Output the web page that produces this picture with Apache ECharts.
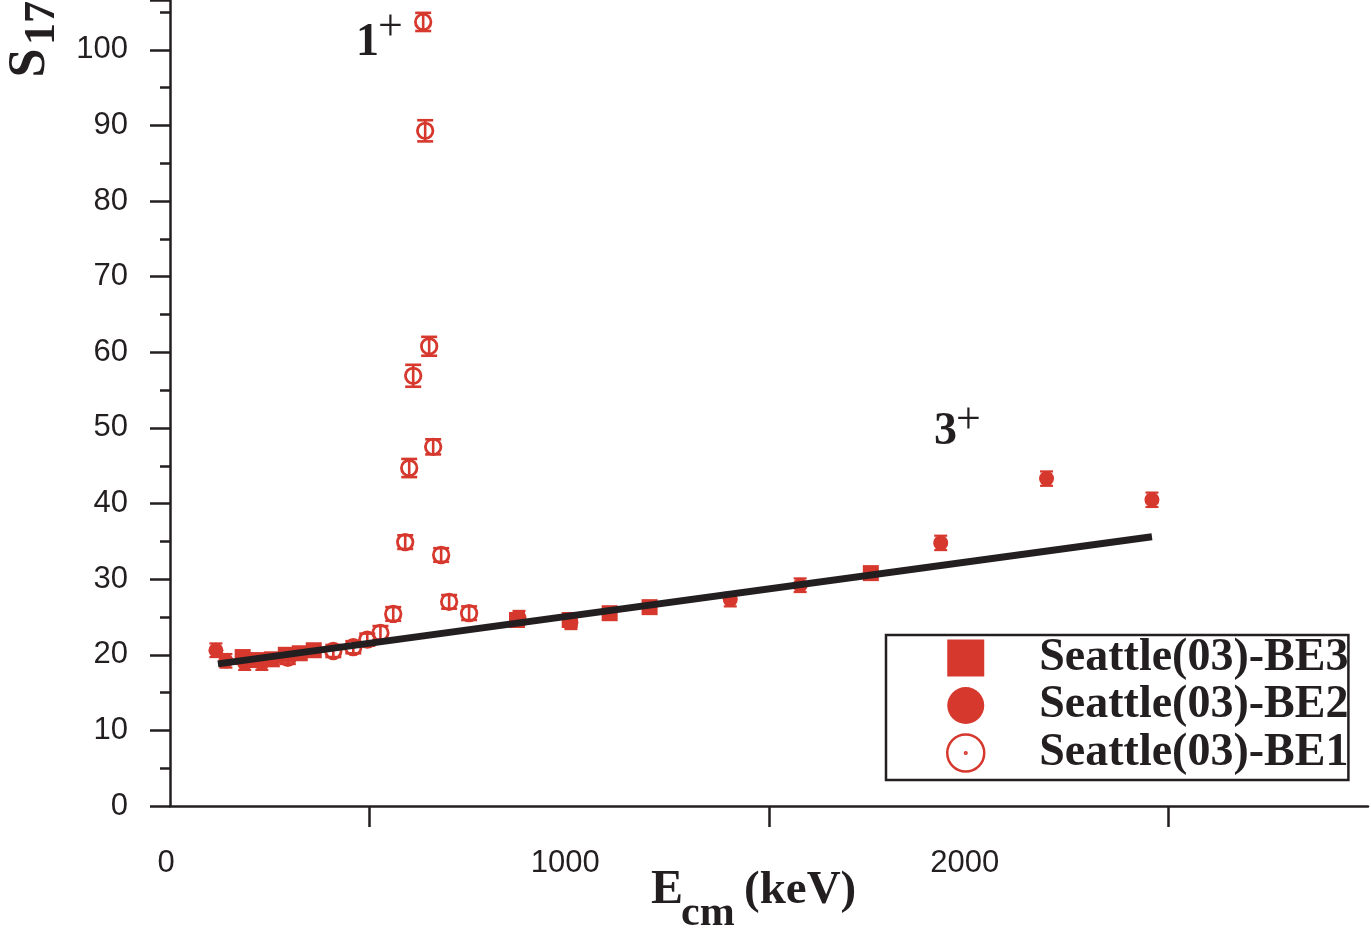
<!DOCTYPE html>
<html>
<head>
<meta charset="utf-8">
<script src="https://cdn.jsdelivr.net/npm/echarts@6/dist/echarts.min.js"></script>
<style>
html,body{margin:0;padding:0;background:#fff;}
#chart{width:1371px;height:931px;}
</style>
</head>
<body>
<div id="chart"></div>
<script>
// ---- data ----
const seriesNames = ['Seattle(03)-BE3', 'Seattle(03)-BE2', 'Seattle(03)-BE1'];

const be3X = [182, 220, 255, 290, 325, 360, 869, 1001, 1101, 1201, 1755];
const be3Y = [19.7, 19.3, 19.4, 20.0, 20.2, 20.6, 24.6, 24.6, 25.5, 26.3, 30.8];

const be2X = [115, 140, 187, 230, 874, 1004, 1403, 1578, 1930, 2195, 2459];
const be2Y = [20.6, 19.2, 18.9, 18.9, 24.9, 24.3, 27.3, 29.2, 34.8, 43.3, 40.5];
const be2Err = [0.9, 0.9, 0.9, 0.9, 0.9, 0.9, 0.9, 0.9, 0.95, 0.95, 0.95];

const be1X = [295, 409, 459, 494, 527, 559, 589, 599, 609, 634, 639, 649, 659, 679, 699, 749];
const be1Y = [19.6, 20.5, 21.0, 22.0, 22.9, 25.4, 34.9, 44.7, 56.9, 103.7, 89.3, 60.8, 47.5, 33.2, 27.0, 25.5];
const be1Err = [0.8, 0.8, 0.8, 0.8, 0.9, 0.9, 0.9, 1.2, 1.45, 1.2, 1.4, 1.25, 1.0, 0.9, 0.9, 0.9];

const fitX = [120, 2459];
const fitY = [18.8, 35.6];

const xTickLabels = ['0', '1000', '2000'];
const yTickLabels = ['0', '10', '20', '30', '40', '50', '60', '70', '80', '90', '100'];

// ---- styling ----
const RED = '#d6382d';
const INK = '#231f20';
const SERIF = '"Liberation Serif", "Times New Roman", serif';
const SANS = '"Liberation Sans", Arial, sans-serif';

const zip = (xs, ys) => xs.map((x, i) => [x, ys[i]]);
const zip3 = (xs, ys, es) => xs.map((x, i) => [x, ys[i], es[i]]);

function errRender(capHalf, lw) {
  return function (params, api) {
    const x = api.value(0), y = api.value(1), e = api.value(2);
    const top = api.coord([x, y + e]);
    const bot = api.coord([x, y - e]);
    const st = { stroke: RED, lineWidth: lw, fill: null };
    return {
      type: 'group',
      children: [
        { type: 'line', shape: { x1: top[0], y1: top[1], x2: bot[0], y2: bot[1] }, style: st },
        { type: 'line', shape: { x1: top[0] - capHalf, y1: top[1], x2: top[0] + capHalf, y2: top[1] }, style: st },
        { type: 'line', shape: { x1: bot[0] - capHalf, y1: bot[1], x2: bot[0] + capHalf, y2: bot[1] }, style: st }
      ]
    };
  };
}

const chart = echarts.init(document.getElementById('chart'), null, { renderer: 'canvas' });

const axisLine = { show: true, lineStyle: { color: INK, width: 2.5 } };

const option = {
  animation: false,
  backgroundColor: '#fff',
  grid: { left: 170, right: 0, top: 0, bottom: 125, containLabel: false },
  xAxis: {
    type: 'value', min: 0, max: 3000, interval: 1000,
    axisLine: axisLine,
    axisTick: { show: false },
    minorTick: { show: true, splitNumber: 2, length: 21, lineStyle: { color: INK, width: 2.5 } },
    axisLabel: {
      margin: 42, color: INK, fontFamily: SANS, fontSize: 31, padding: [0, 8, 0, 0],
      formatter: v => xTickLabels.includes(String(v)) ? String(v) : ''
    },
    splitLine: { show: false },
    minorSplitLine: { show: false }
  },
  yAxis: [{
    type: 'value', min: 0, max: 106.6, interval: 10,
    axisLine: axisLine,
    axisTick: { show: true, inside: false, length: 20, lineStyle: { color: INK, width: 2.5 } },
    axisLabel: {
      margin: 42, color: INK, fontFamily: SANS, fontSize: 31,
      formatter: v => yTickLabels.includes(String(v)) ? String(v) : ''
    },
    splitLine: { show: false }
  }, {
    type: 'value', min: 0, max: 106.6, interval: 5, position: 'left',
    axisLine: { show: false },
    axisTick: { show: true, inside: false, length: 10, lineStyle: { color: INK, width: 2.5 } },
    axisLabel: { show: false },
    splitLine: { show: false }
  }],
  legend: {
    orient: 'vertical', left: 886, top: 635,
    itemWidth: 37, itemHeight: 37, itemGap: 1.5,
    padding: [0, 0, 4, 60],
    borderColor: INK, borderWidth: 2.5, borderRadius: 0,
    selectedMode: false,
    textStyle: { fontFamily: SERIF, fontWeight: 'bold', fontSize: 46, color: INK, padding: [0, 0, 0, 50] },
    data: [
      { name: seriesNames[0], icon: 'rect', itemStyle: { color: RED, borderWidth: 0 } },
      { name: seriesNames[1], icon: 'circle', itemStyle: { color: RED, borderWidth: 0 } },
      { name: seriesNames[2],
        icon: 'path://M18,0 A18,18 0 1,1 17.99,0 Z M18,17.2 A0.8,0.8 0 1,1 17.99,17.2 Z',
        itemStyle: { color: 'rgba(0,0,0,0)', borderColor: RED, borderWidth: 2.5 } }
    ]
  },
  series: [
    {
      name: seriesNames[0], type: 'scatter', symbol: 'rect', symbolSize: 16,
      itemStyle: { color: RED, opacity: 1 }, z: 3,
      data: zip(be3X, be3Y)
    },
    {
      name: seriesNames[1], type: 'scatter', symbol: 'circle', symbolSize: 15,
      itemStyle: { color: RED, opacity: 1 }, z: 3,
      data: zip(be2X, be2Y)
    },
    {
      name: 'be2err', type: 'custom', renderItem: errRender(6.5, 2.2), z: 4,
      data: zip3(be2X, be2Y, be2Err), silent: true
    },
    {
      name: seriesNames[2], type: 'scatter', symbol: 'circle', symbolSize: 15.5,
      itemStyle: { color: 'rgba(0,0,0,0)', borderColor: RED, borderWidth: 2.8, opacity: 1 }, z: 3,
      data: zip(be1X, be1Y)
    },
    {
      name: 'be1err', type: 'custom', renderItem: errRender(8, 2.6), z: 4,
      data: zip3(be1X, be1Y, be1Err), silent: true
    },
    {
      name: 'fit', type: 'line', showSymbol: false, symbol: 'none', z: 6,
      lineStyle: { color: INK, width: 7 },
      data: zip(fitX, fitY), silent: true
    }
  ],
  graphic: [
    // y-axis title S_17 (rotated)
    { type: 'text', x: 31, y: 63, rotation: Math.PI / 2,
      style: { text: 'S', font: 'bold 52px ' + SERIF, fill: INK, align: 'center', verticalAlign: 'middle' } },
    { type: 'text', x: 43, y: 23, rotation: Math.PI / 2,
      style: { text: '17', font: 'bold 44px ' + SERIF, fill: INK, align: 'center', verticalAlign: 'middle' } },
    // x-axis title E_cm (keV)
    { type: 'text', x: 651, y: 891,
      style: { text: 'E', font: 'bold 48px ' + SERIF, fill: INK, align: 'left', verticalAlign: 'middle' } },
    { type: 'text', x: 681, y: 914,
      style: { text: 'cm', font: 'bold 42px ' + SERIF, fill: INK, align: 'left', verticalAlign: 'middle' } },
    { type: 'text', x: 744, y: 891,
      style: { text: '(keV)', font: 'bold 47px ' + SERIF, fill: INK, align: 'left', verticalAlign: 'middle' } },
    // resonance annotations
    { type: 'text', x: 356, y: 43,
      style: { text: '1', font: 'bold 46px ' + SERIF, fill: INK, align: 'left', verticalAlign: 'middle' } },
    { type: 'text', x: 378, y: 28,
      style: { text: '+', font: '44px ' + SERIF, fill: INK, align: 'left', verticalAlign: 'middle' } },
    { type: 'text', x: 934, y: 432,
      style: { text: '3', font: 'bold 46px ' + SERIF, fill: INK, align: 'left', verticalAlign: 'middle' } },
    { type: 'text', x: 956, y: 421,
      style: { text: '+', font: '44px ' + SERIF, fill: INK, align: 'left', verticalAlign: 'middle' } }
  ]
};

chart.setOption(option);
</script>
</body>
</html>
